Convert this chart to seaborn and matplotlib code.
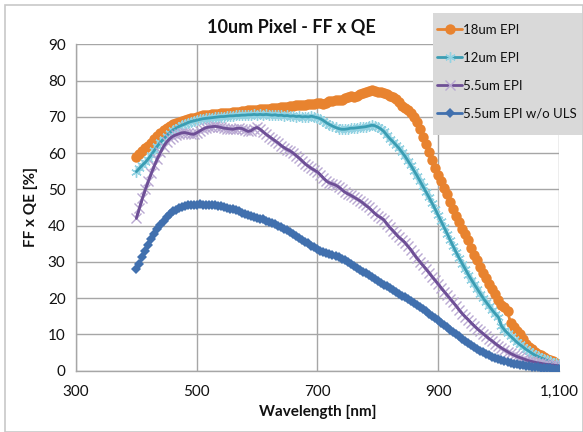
import numpy as np
import pandas as pd
import matplotlib
matplotlib.use("Agg")
import matplotlib.pyplot as plt
import seaborn as sns
from matplotlib.patches import Rectangle
from matplotlib.ticker import FixedLocator

wavelength = list(range(400, 1101, 5))

epi_18 = [59.0, 59.8, 60.6, 61.4, 62.0, 62.9, 63.8, 64.8, 65.6, 66.3, 66.9, 67.5, 68.0, 68.4, 68.7, 69.0, 69.2, 69.4, 69.6, 69.8,
          70.0, 70.2, 70.4, 70.5, 70.6, 70.7, 70.8, 70.9, 71.0, 71.0, 71.1, 71.2, 71.3, 71.3, 71.4, 71.6, 71.6, 71.8, 71.9, 72.0,
          72.0, 72.1, 72.2, 72.2, 72.3, 72.4, 72.5, 72.6, 72.7, 72.8, 72.8, 73.0, 73.1, 73.2, 73.3, 73.3, 73.4, 73.5, 73.6, 73.7,
          73.8, 73.8, 73.6, 73.9, 74.3, 74.5, 74.7, 74.8, 74.8, 75.2, 75.5, 75.7, 75.6, 75.9, 76.2, 76.5, 76.9, 77.2, 77.4, 77.3,
          77.0, 76.9, 76.7, 76.3, 75.9, 75.5, 75.0, 74.2, 73.0, 72.5, 71.8, 71.0, 70.0, 68.5, 66.8, 64.6, 62.4, 60.3, 58.2, 56.0,
          54.0, 52.2, 50.3, 48.6, 46.6, 44.5, 42.6, 40.9, 39.2, 37.6, 35.9, 33.8, 32.0, 30.5, 28.5, 26.8, 25.6, 24.0, 22.4, 21.0,
          19.5, 18.2, 17.6, 16.4, 13.2, 12.0, 11.0, 10.0, 8.6, 7.4, 6.6, 5.8, 5.2, 4.6, 4.2, 3.6, 3.3, 2.9, 2.5, 2.1, 1.8]

epi_12 = [54.9, 55.8, 56.7, 57.5, 58.5, 59.6, 60.8, 62.0, 63.0, 63.9, 64.8, 65.6, 66.3, 66.8, 67.3, 67.7, 68.0, 68.4, 68.7, 68.9,
          69.1, 69.3, 69.5, 69.6, 69.7, 69.8, 69.9, 70.0, 70.1, 70.1, 70.2, 70.3, 70.3, 70.4, 70.4, 70.5, 70.5, 70.6, 70.6, 70.7,
          70.6, 70.7, 70.6, 70.7, 70.6, 70.5, 70.6, 70.4, 70.5, 70.3, 70.4, 70.2, 70.3, 70.1, 70.2, 70.0, 70.1, 70.0, 70.2, 70.0,
          69.8, 69.5, 69.0, 68.4, 67.9, 67.5, 67.1, 66.8, 66.6, 66.6, 66.7, 66.9, 66.9, 67.0, 67.1, 67.2, 67.3, 67.5, 67.7, 67.6,
          67.2, 66.7, 66.0, 65.0, 64.0, 63.2, 62.3, 61.4, 60.3, 59.2, 57.9, 56.6, 55.2, 53.8, 52.3, 50.8, 49.3, 47.8, 46.2, 44.6,
          42.9, 41.2, 39.5, 37.8, 36.0, 34.3, 32.6, 31.0, 29.5, 28.0, 26.5, 25.1, 23.8, 22.5, 21.2, 19.9, 18.8, 17.7, 16.6, 15.6,
          14.7, 12.3, 11.2, 10.3, 9.5, 8.7, 7.9, 7.2, 6.6, 5.9, 5.4, 4.8, 4.3, 3.9, 3.5, 3.2, 2.8, 2.5, 2.2, 2.0, 1.7]

epi_55 = [42.0, 44.8, 47.5, 50.0, 52.3, 54.5, 56.6, 58.5, 60.2, 61.8, 63.0, 63.9, 64.6, 65.0, 65.3, 65.6, 65.7, 65.5, 65.3, 65.2,
          65.6, 66.1, 66.6, 67.0, 67.2, 67.3, 67.4, 67.3, 67.1, 66.9, 66.8, 66.7, 66.6, 66.8, 66.9, 66.8, 66.4, 66.0, 66.2, 66.8,
          67.1, 66.6, 65.9, 65.2, 64.6, 64.0, 63.4, 62.8, 62.1, 61.5, 61.0, 60.6, 60.0, 59.3, 58.6, 57.8, 57.0, 56.4, 55.8, 55.3,
          54.8, 54.0, 53.1, 52.3, 51.8, 51.5, 51.2, 50.7, 50.0, 49.3, 48.8, 48.4, 47.9, 47.4, 46.9, 46.3, 45.6, 45.0, 44.2, 43.4,
          42.7, 42.2, 41.6, 40.5, 39.5, 38.6, 37.7, 36.8, 36.1, 35.3, 34.3, 33.3, 32.1, 31.0, 30.0, 29.0, 28.0, 27.0, 25.9, 24.9,
          23.9, 22.8, 21.8, 20.8, 19.8, 18.8, 17.8, 16.7, 15.7, 14.8, 14.0, 13.1, 12.3, 11.5, 10.8, 10.1, 9.4, 8.7, 8.1, 7.4,
          6.8, 6.2, 5.7, 5.2, 4.7, 4.3, 3.9, 3.6, 3.3, 3.0, 2.7, 2.5, 2.3, 2.1, 2.0, 1.8, 1.7, 1.6, 1.5, 1.4, 1.3]

epi_55_no_uls = [27.9, 29.5, 31.3, 33.0, 34.6, 36.2, 37.7, 39.0, 40.3, 41.4, 42.4, 43.2, 43.9, 44.4, 44.9, 45.2, 45.4, 45.6, 45.7, 45.8,
                 45.8, 45.9, 45.8, 45.8, 45.7, 45.7, 45.6, 45.4, 45.3, 45.1, 44.9, 44.7, 44.5, 44.2, 43.9, 43.6, 43.3, 43.0, 42.7, 42.4,
                 42.2, 41.9, 41.7, 41.4, 41.1, 40.8, 40.4, 40.0, 39.6, 39.2, 38.7, 38.2, 37.7, 37.2, 36.7, 36.1, 35.6, 35.1, 34.5, 34.0,
                 33.5, 33.1, 32.7, 32.4, 32.1, 31.8, 31.5, 31.2, 30.8, 30.4, 29.9, 29.4, 28.9, 28.3, 27.8, 27.3, 26.8, 26.3, 25.8, 25.2,
                 24.7, 24.2, 23.7, 23.2, 22.7, 22.2, 21.7, 21.2, 20.7, 20.2, 19.7, 19.2, 18.7, 18.1, 17.5, 16.9, 16.3, 15.7, 15.1, 14.5,
                 13.9, 13.2, 12.6, 12.0, 11.3, 10.6, 10.0, 9.4, 8.8, 8.2, 7.6, 7.0, 6.5, 6.0, 5.5, 5.0, 4.6, 4.2, 3.8, 3.4,
                 3.1, 2.8, 2.5, 2.3, 2.1, 1.9, 1.7, 1.5, 1.4, 1.3, 1.2, 1.1, 1.0, 0.9, 0.8, 0.7, 0.6, 0.6, 0.5, 0.5, 0.4]

series_names = ["18um EPI", "12um EPI", "5.5um EPI", "5.5um EPI w/o ULS"]
x_ticks = [300, 500, 700, 900, 1100]
x_tick_labels = ["300", "500", "700", "900", "1,100"]
y_ticks = [0, 10, 20, 30, 40, 50, 60, 70, 80, 90]

sns.set_theme(style="white")
plt.rcParams["font.family"] = ["Lato", "DejaVu Sans"]

fig = plt.figure(figsize=(5.83, 4.32), dpi=100)
W, H = 583, 432
ax = fig.add_axes([76 / W, 1 - 370.5 / H, (558.8 - 76) / W, (370.5 - 44.5) / H])

line_colors = ["#E8832F", "#3A9DB3", "#6E4F96", "#4170AE"]
styles = [
    dict(marker="o", markersize=7.5, markeredgewidth=0, mfc="#E8832F"),
    dict(marker=(6, 2, 0), markersize=7.5, markeredgewidth=1.0, mec="#93D2E2"),
    dict(marker="x", markersize=6.5, markeredgewidth=1.0, mec="#B9A8D2"),
    dict(marker="D", markersize=5.2, markeredgewidth=0, mfc="#4170AE"),
]
data = [epi_18, epi_12, epi_55, epi_55_no_uls]
overlay = [False, True, True, False]

for i, (name, vals, st) in enumerate(zip(series_names, data, styles)):
    df = pd.DataFrame({"Wavelength": wavelength, "Value": vals})
    sns.lineplot(data=df, x="Wavelength", y="Value", ax=ax, label=name, estimator=None,
                 sort=False, color=line_colors[i], lw=2.0, zorder=2 + i, **st)
    if overlay[i]:
        sns.lineplot(data=df, x="Wavelength", y="Value", ax=ax, estimator=None, sort=False,
                     color=line_colors[i], lw=2.0, legend=False, zorder=2 + i)

ax.set_xlim(300, 1100)
ax.set_ylim(0, 90)
ax.xaxis.set_major_locator(FixedLocator(x_ticks))
ax.set_xticklabels(x_tick_labels)
ax.yaxis.set_major_locator(FixedLocator(y_ticks))
ax.grid(True, color="#A6A6A6", lw=1.0)
ax.set_axisbelow(True)
for s in ["top", "right"]:
    ax.spines[s].set_visible(False)
for s in ["left", "bottom"]:
    ax.spines[s].set_color("#A6A6A6")
    ax.spines[s].set_linewidth(1.0)
ax.tick_params(axis="both", which="major", direction="out", length=4.5, width=1.0,
               color="#A6A6A6", labelsize=11, labelcolor="#111111", pad=3)
ax.tick_params(axis="x", pad=6)

ax.set_xlabel("Wavelength [nm]", fontsize=11, fontweight="bold", color="#111111", labelpad=4)
ax.set_ylabel("FF x QE [%]", fontsize=11, fontweight="bold", color="#111111", labelpad=7)

fig.text(0.5, 1 - 27 / H, "10um Pixel - FF x QE", ha="center", va="center",
         fontsize=13, fontweight="bold", color="#111111")

# legend: gray box drawn separately, entries as a figure legend on top of it
handles, labels = ax.get_legend_handles_labels()
ax.get_legend().remove()
box = Rectangle((433 / W, 1 - 135 / H), (582 - 433) / W, (135 - 13) / H,
                transform=fig.transFigure, facecolor="#D9D9D9", edgecolor="none", zorder=5)
fig.patches.append(box)
leg = fig.legend(handles, labels, loc="upper left", bbox_to_anchor=(437 / W, 1 - 24 / H),
                 bbox_transform=fig.transFigure, frameon=False,
                 fontsize=9.5, handlelength=1.9, handletextpad=0.1, labelspacing=1.2,
                 borderpad=0.0, borderaxespad=0)
leg.set_zorder(10)
for t in leg.get_texts():
    t.set_color("#111111")

fig.patches.append(Rectangle((4.5 / W, 0.5 / H), (W - 5) / W, (H - 5) / H,
                             transform=fig.transFigure, fill=False,
                             edgecolor="#C8C8C8", lw=1.2, zorder=-1))

fig.savefig("out.png", dpi=100)
